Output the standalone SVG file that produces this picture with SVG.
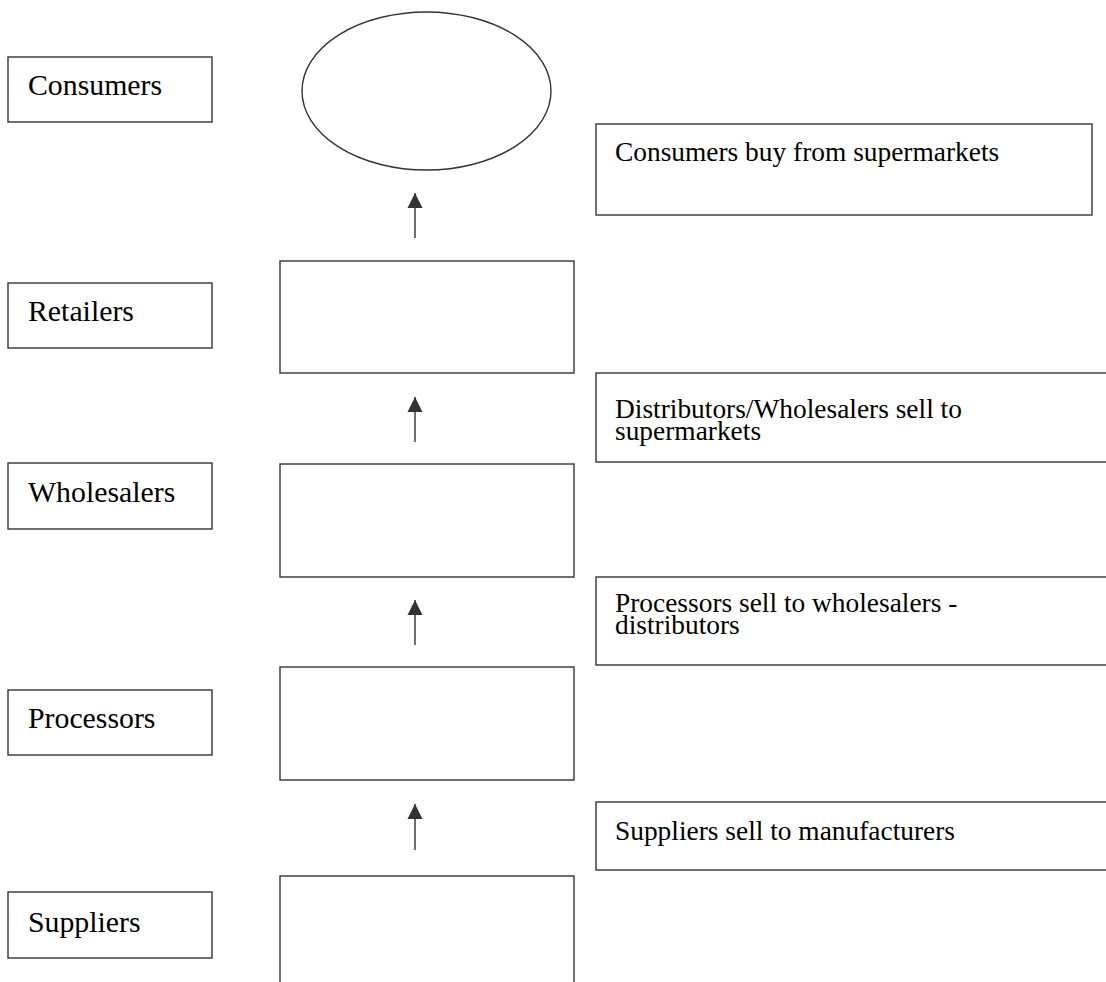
<svg xmlns="http://www.w3.org/2000/svg" width="1106" height="982" viewBox="0 0 1106 982">
  <style>
    .box { fill: #ffffff; stroke: #333333; stroke-width: 1.4; }
    .lbl { font-family: "Liberation Serif", "Times New Roman", serif; font-size: 29.8px; fill: #000000; }
    .note { font-family: "Liberation Serif", "Times New Roman", serif; font-size: 27.4px; fill: #000000; }
    .conn { stroke: #333333; stroke-width: 1.4; fill: none; }
  </style>
  <defs>
    <!-- filled triangular head, drawn along +x and turned to the line direction -->
    <marker id="arrowhead" markerUnits="userSpaceOnUse" markerWidth="16" markerHeight="16" viewBox="0 0 16 16" refX="15" refY="8" orient="auto">
      <path d="M0,0.5 L15,8 L0,15.5 Z" fill="#333333"/>
    </marker>
  </defs>
  <rect width="1106" height="982" fill="#ffffff"/>

  <!-- stage labels on the left -->
  <g id="label-consumers">
    <rect class="box" x="8" y="57" width="204" height="65"/>
    <text class="lbl" x="28" y="95">Consumers</text>
  </g>
  <g id="label-retailers">
    <rect class="box" x="8" y="283" width="204" height="65"/>
    <text class="lbl" x="28" y="321">Retailers</text>
  </g>
  <g id="label-wholesalers">
    <rect class="box" x="8" y="463" width="204" height="66"/>
    <text class="lbl" x="28" y="502">Wholesalers</text>
  </g>
  <g id="label-processors">
    <rect class="box" x="8" y="690" width="204" height="65"/>
    <text class="lbl" x="28" y="728">Processors</text>
  </g>
  <g id="label-suppliers">
    <rect class="box" x="8" y="892" width="204" height="66"/>
    <text class="lbl" x="28" y="932">Suppliers</text>
  </g>

  <!-- chain column -->
  <g id="node-consumers">
    <ellipse class="box" cx="426.5" cy="91" rx="124.5" ry="79"/>
  </g>
  <g id="node-retailers">
    <rect class="box" x="280" y="261" width="294" height="112"/>
  </g>
  <g id="node-wholesalers">
    <rect class="box" x="280" y="464" width="294" height="113"/>
  </g>
  <g id="node-processors">
    <rect class="box" x="280" y="667" width="294" height="113"/>
  </g>
  <g id="node-suppliers">
    <rect class="box" x="280" y="876" width="294" height="140"/>
  </g>

  <!-- notes on the right -->
  <g id="note-consumers">
    <rect class="box" x="596" y="124" width="496" height="91"/>
    <text class="note" x="615" y="161">Consumers buy from supermarkets</text>
  </g>
  <g id="note-distributors">
    <rect class="box" x="596" y="373" width="530" height="89"/>
    <text class="note" x="615" y="418">Distributors/Wholesalers sell to</text>
    <text class="note" x="615" y="440">supermarkets</text>
  </g>
  <g id="note-processors">
    <rect class="box" x="596" y="577" width="530" height="88"/>
    <text class="note" x="615" y="612">Processors sell to wholesalers -</text>
    <text class="note" x="615" y="634">distributors</text>
  </g>
  <g id="note-suppliers">
    <rect class="box" x="596" y="802" width="530" height="68"/>
    <text class="note" x="615" y="840">Suppliers sell to manufacturers</text>
  </g>

  <!-- connectors -->
  <g id="connectors">
    <line class="conn" x1="415" y1="238" x2="415" y2="193" marker-end="url(#arrowhead)"/>
    <line class="conn" x1="415" y1="442" x2="415" y2="397" marker-end="url(#arrowhead)"/>
    <line class="conn" x1="415" y1="645" x2="415" y2="600" marker-end="url(#arrowhead)"/>
    <line class="conn" x1="415" y1="850" x2="415" y2="804" marker-end="url(#arrowhead)"/>
  </g>
</svg>
